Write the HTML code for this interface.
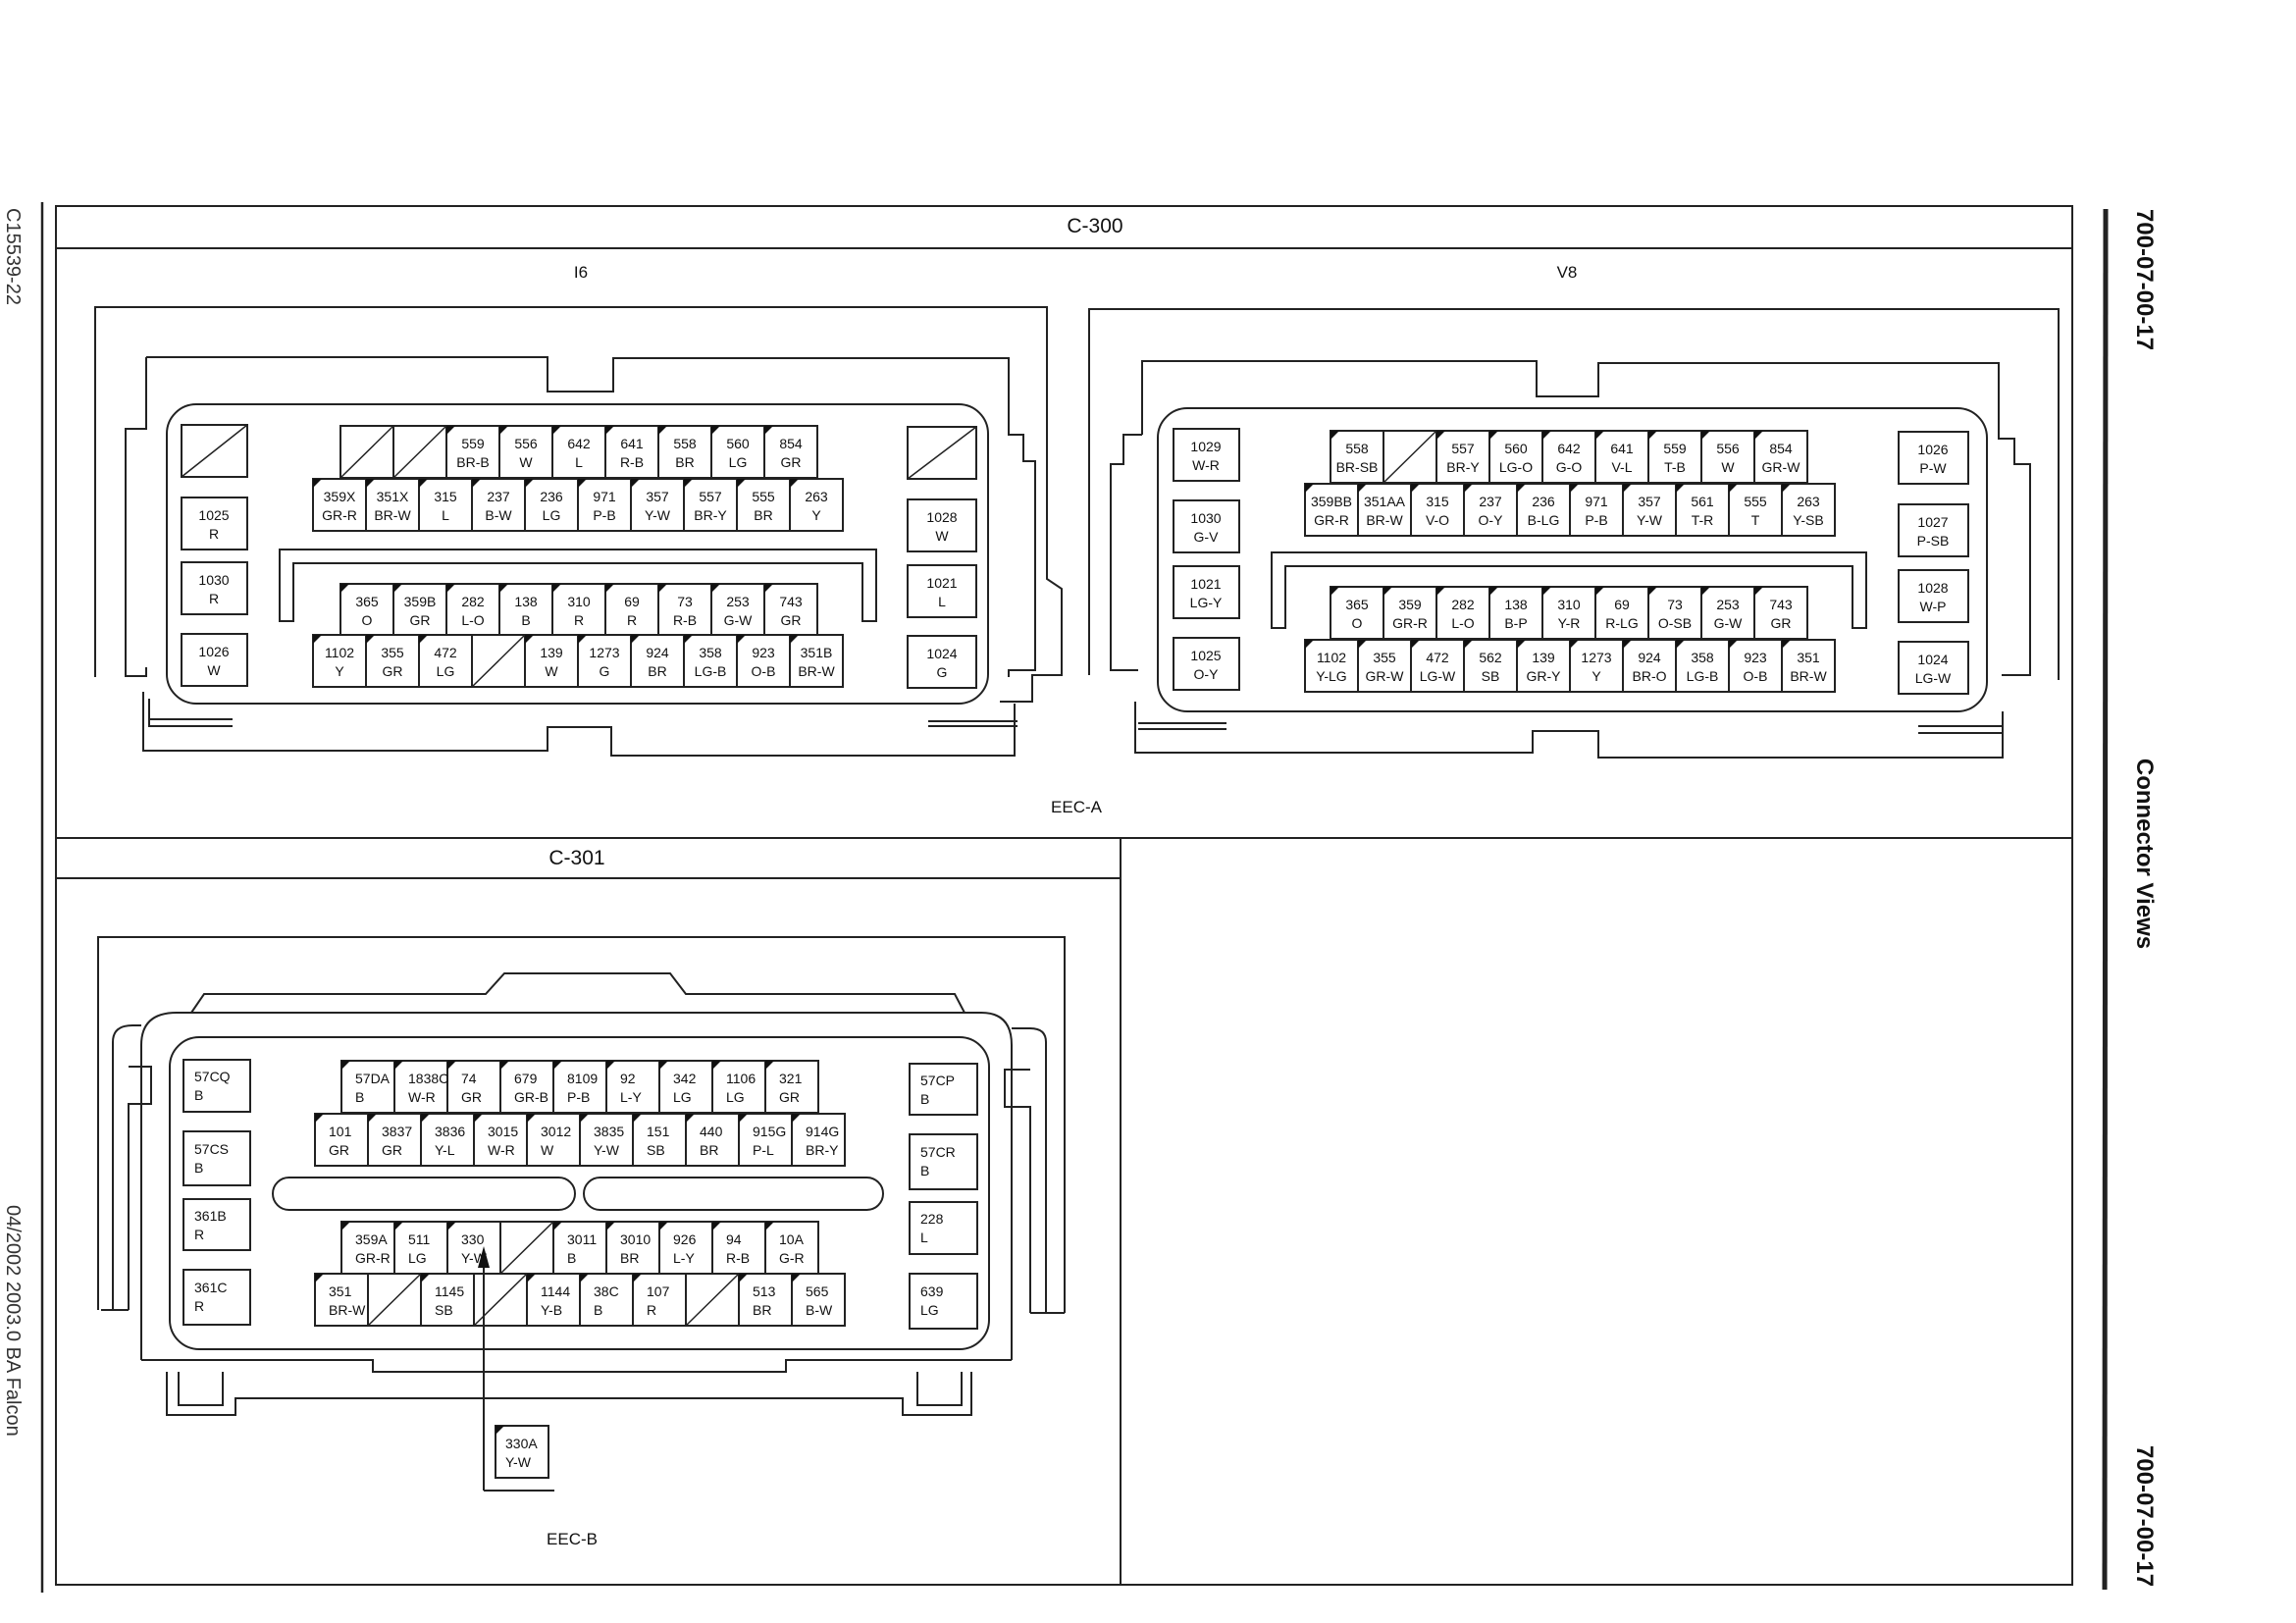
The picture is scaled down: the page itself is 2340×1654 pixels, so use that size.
<!DOCTYPE html>
<html><head><meta charset="utf-8"><style>
html,body{margin:0;padding:0;background:#fff}
svg{display:block}
text{font-family:"Liberation Sans Narrow","Liberation Sans",sans-serif;font-size:14px;fill:#111}
.m{text-anchor:middle}
.h{font-family:"Liberation Sans",sans-serif;font-size:21px}
.s{font-family:"Liberation Sans",sans-serif;font-size:17px}
.r{font-family:"Liberation Sans Narrow","Liberation Sans",sans-serif;font-size:24px;font-weight:bold}
.e{font-family:"Liberation Sans",sans-serif;font-size:20px;fill:#333}
</style></head><body>
<svg width="2340" height="1654" viewBox="0 0 2340 1654" xmlns="http://www.w3.org/2000/svg">
<defs>
<symbol id="c" overflow="visible"><rect width="54" height="53" fill="#fff" stroke="#222" stroke-width="2"/><path d="M0,0h9L0,9z" fill="#111"/></symbol>
<symbol id="b" overflow="visible"><rect width="54" height="53" fill="#fff" stroke="#222" stroke-width="2"/><path d="M0,53L54,0" stroke="#222" stroke-width="1.5"/></symbol>
</defs>
<rect width="2340" height="1654" fill="#fff"/>
<g fill="none" stroke="#222" stroke-width="2">
<rect x="57" y="210" width="2055" height="1405"/>
<line x1="57" y1="253" x2="2112" y2="253"/>
<line x1="57" y1="854" x2="2112" y2="854"/>
<line x1="57" y1="895" x2="1142" y2="895"/>
<line x1="1142" y1="854" x2="1142" y2="1615"/>
<line x1="43" y1="206" x2="43" y2="1623" stroke-width="2.5"/>
<line x1="2146" y1="213" x2="2145" y2="1620" stroke-width="5"/>

<path d="M97,690 V313 H1067 V590 L1082,600 V688 H1052 V715 H1019"/>
<path d="M149,364 H558 V399 H625 V365 H1028 V443 H1043 V470 H1055 V683 H1028 V690"/>
<path d="M149,364 V437 H128 V689 H149 V680"/>
<rect x="170" y="412" width="837" height="305" rx="30"/>
<path d="M285,633 V560 H893 V633 H879 V574 H299 V633 Z"/>
<path d="M146,705 V765 H558 V741 H623 V770 H1034 V717"/>
<path d="M152,712 V733 H237 M152,733 V740 H237"/>
<path d="M946,735 H1037 M946,740 H1037"/>

<path d="M1110,688 V315 H2098 V693"/>
<path d="M1164,443 V368 H1566 V404 H1629 V370 H2037 V447 H2053 V473 H2069 V688 H2040"/>
<path d="M1164,443 H1145 V473 H1132 V683 H1160"/>
<rect x="1180" y="416" width="845" height="309" rx="30"/>
<path d="M1296,640 V563 H1902 V640 H1888 V577 H1310 V640 Z"/>
<path d="M1157,715 V767 H1562 V745 H1629 V772 H2041 V725"/>
<path d="M1160,737 H1250 M1160,743 H1250 M1955,740 H2041 M1955,747 H2041"/>

<path d="M100,1335 V955 H1085 V1338"/>
<path d="M144,1386 V1065 Q144,1032 180,1032 H1000 Q1031,1032 1031,1065 V1386"/>
<path d="M195,1032 L208,1013 H495 L514,992 H683 L699,1013 H973 L983,1032"/>
<path d="M115,1335 V1062 Q115,1045 135,1045 H144 M131,1335 V1125 H154 V1087 H131 M103,1335 H131"/>
<path d="M1066,1338 V1062 Q1066,1048 1050,1048 H1031 M1050,1338 V1128 H1024 V1090 H1050 M1050,1338 H1085"/>
<rect x="173" y="1057" width="835" height="318" rx="30"/>
<rect x="278" y="1200" width="308" height="33" rx="16.5"/>
<rect x="595" y="1200" width="305" height="33" rx="16.5"/>
<path d="M144,1386 H380 V1398 H801 V1386 H1031"/>
<path d="M170,1398 V1442 H240 V1425 H920 V1442 H990 V1398"/>
<path d="M182,1398 V1432 H227 V1398 M935,1398 V1432 H980 V1398"/>
<path d="M493,1519 V1285 M493,1519 H565"/>
</g>
<path d="M493,1270 L487,1292 L499,1292 Z" fill="#111"/>

<text class="h m" x="1116" y="237">C-300</text>
<text class="s m" x="592" y="283">I6</text>
<text class="s m" x="1597" y="283">V8</text>
<text class="s m" x="1097" y="828">EEC-A</text>
<text class="h m" x="588" y="881">C-301</text>
<text class="s m" x="583" y="1574">EEC-B</text>
<text class="r m" transform="translate(2178,285) rotate(90)">700-07-00-17</text>
<text class="r m" transform="translate(2178,870) rotate(90)">Connector Views</text>
<text class="r m" transform="translate(2178,1545) rotate(90)">700-07-00-17</text>
<text class="e" transform="translate(7,212) rotate(90)">C15539-22</text>
<text class="e" transform="translate(7,1228) rotate(90)">04/2002 2003.0 BA Falcon</text>

<g fill="#fff" stroke="#222" stroke-width="2">
<rect x="185" y="433" width="67" height="53"/><rect x="185" y="507" width="67" height="53"/><rect x="185" y="573" width="67" height="53"/><rect x="185" y="646" width="67" height="53"/>
<rect x="925" y="435" width="70" height="53"/><rect x="925" y="509" width="70" height="53"/><rect x="925" y="576" width="70" height="53"/><rect x="925" y="648" width="70" height="53"/>
<rect x="1196" y="437" width="67" height="53"/><rect x="1196" y="510" width="67" height="53"/><rect x="1196" y="577" width="67" height="53"/><rect x="1196" y="650" width="67" height="53"/>
<rect x="1935" y="440" width="71" height="53"/><rect x="1935" y="514" width="71" height="53"/><rect x="1935" y="581" width="71" height="53"/><rect x="1935" y="654" width="71" height="53"/>
<rect x="187" y="1080" width="68" height="53"/><rect x="187" y="1153" width="68" height="55"/><rect x="187" y="1222" width="68" height="52"/><rect x="187" y="1294" width="68" height="56"/>
<rect x="927" y="1084" width="69" height="52"/><rect x="927" y="1156" width="69" height="56"/><rect x="927" y="1225" width="69" height="53"/><rect x="927" y="1298" width="69" height="56"/>
</g>
<g stroke="#222" stroke-width="1.5"><path d="M185,486 L252,433 M925,488 L995,435"/></g>
<text class="m" x="218" y="530">1025</text><text class="m" x="218" y="549">R</text>
<text class="m" x="218" y="596">1030</text><text class="m" x="218" y="615">R</text>
<text class="m" x="218" y="669">1026</text><text class="m" x="218" y="688">W</text>
<text class="m" x="960" y="532">1028</text><text class="m" x="960" y="551">W</text>
<text class="m" x="960" y="599">1021</text><text class="m" x="960" y="618">L</text>
<text class="m" x="960" y="671">1024</text><text class="m" x="960" y="690">G</text>

<use href="#b" x="347" y="434"/><use href="#b" x="401" y="434"/>
<use href="#c" x="455" y="434"/><use href="#c" x="509" y="434"/><use href="#c" x="563" y="434"/><use href="#c" x="617" y="434"/><use href="#c" x="671" y="434"/><use href="#c" x="725" y="434"/><use href="#c" x="779" y="434"/>
<text class="m" x="482" y="457">559</text><text class="m" x="482" y="476">BR-B</text>
<text class="m" x="536" y="457">556</text><text class="m" x="536" y="476">W</text>
<text class="m" x="590" y="457">642</text><text class="m" x="590" y="476">L</text>
<text class="m" x="644" y="457">641</text><text class="m" x="644" y="476">R-B</text>
<text class="m" x="698" y="457">558</text><text class="m" x="698" y="476">BR</text>
<text class="m" x="752" y="457">560</text><text class="m" x="752" y="476">LG</text>
<text class="m" x="806" y="457">854</text><text class="m" x="806" y="476">GR</text>
<use href="#c" x="319" y="488"/><use href="#c" x="373" y="488"/><use href="#c" x="427" y="488"/><use href="#c" x="481" y="488"/><use href="#c" x="535" y="488"/><use href="#c" x="589" y="488"/><use href="#c" x="643" y="488"/><use href="#c" x="697" y="488"/><use href="#c" x="751" y="488"/><use href="#c" x="805" y="488"/>
<text class="m" x="346" y="511">359X</text><text class="m" x="346" y="530">GR-R</text>
<text class="m" x="400" y="511">351X</text><text class="m" x="400" y="530">BR-W</text>
<text class="m" x="454" y="511">315</text><text class="m" x="454" y="530">L</text>
<text class="m" x="508" y="511">237</text><text class="m" x="508" y="530">B-W</text>
<text class="m" x="562" y="511">236</text><text class="m" x="562" y="530">LG</text>
<text class="m" x="616" y="511">971</text><text class="m" x="616" y="530">P-B</text>
<text class="m" x="670" y="511">357</text><text class="m" x="670" y="530">Y-W</text>
<text class="m" x="724" y="511">557</text><text class="m" x="724" y="530">BR-Y</text>
<text class="m" x="778" y="511">555</text><text class="m" x="778" y="530">BR</text>
<text class="m" x="832" y="511">263</text><text class="m" x="832" y="530">Y</text>

<use href="#c" x="347" y="595"/><use href="#c" x="401" y="595"/><use href="#c" x="455" y="595"/><use href="#c" x="509" y="595"/><use href="#c" x="563" y="595"/><use href="#c" x="617" y="595"/><use href="#c" x="671" y="595"/><use href="#c" x="725" y="595"/><use href="#c" x="779" y="595"/>
<text class="m" x="374" y="618">365</text><text class="m" x="374" y="637">O</text>
<text class="m" x="428" y="618">359B</text><text class="m" x="428" y="637">GR</text>
<text class="m" x="482" y="618">282</text><text class="m" x="482" y="637">L-O</text>
<text class="m" x="536" y="618">138</text><text class="m" x="536" y="637">B</text>
<text class="m" x="590" y="618">310</text><text class="m" x="590" y="637">R</text>
<text class="m" x="644" y="618">69</text><text class="m" x="644" y="637">R</text>
<text class="m" x="698" y="618">73</text><text class="m" x="698" y="637">R-B</text>
<text class="m" x="752" y="618">253</text><text class="m" x="752" y="637">G-W</text>
<text class="m" x="806" y="618">743</text><text class="m" x="806" y="637">GR</text>

<use href="#c" x="319" y="647"/><use href="#c" x="373" y="647"/><use href="#c" x="427" y="647"/><use href="#b" x="481" y="647"/><use href="#c" x="535" y="647"/><use href="#c" x="589" y="647"/><use href="#c" x="643" y="647"/><use href="#c" x="697" y="647"/><use href="#c" x="751" y="647"/><use href="#c" x="805" y="647"/>
<text class="m" x="346" y="670">1102</text><text class="m" x="346" y="689">Y</text>
<text class="m" x="400" y="670">355</text><text class="m" x="400" y="689">GR</text>
<text class="m" x="454" y="670">472</text><text class="m" x="454" y="689">LG</text>
<text class="m" x="562" y="670">139</text><text class="m" x="562" y="689">W</text>
<text class="m" x="616" y="670">1273</text><text class="m" x="616" y="689">G</text>
<text class="m" x="670" y="670">924</text><text class="m" x="670" y="689">BR</text>
<text class="m" x="724" y="670">358</text><text class="m" x="724" y="689">LG-B</text>
<text class="m" x="778" y="670">923</text><text class="m" x="778" y="689">O-B</text>
<text class="m" x="832" y="670">351B</text><text class="m" x="832" y="689">BR-W</text>

<text class="m" x="1229" y="460">1029</text><text class="m" x="1229" y="479">W-R</text>
<text class="m" x="1229" y="533">1030</text><text class="m" x="1229" y="552">G-V</text>
<text class="m" x="1229" y="600">1021</text><text class="m" x="1229" y="619">LG-Y</text>
<text class="m" x="1229" y="673">1025</text><text class="m" x="1229" y="692">O-Y</text>
<text class="m" x="1970" y="463">1026</text><text class="m" x="1970" y="482">P-W</text>
<text class="m" x="1970" y="537">1027</text><text class="m" x="1970" y="556">P-SB</text>
<text class="m" x="1970" y="604">1028</text><text class="m" x="1970" y="623">W-P</text>
<text class="m" x="1970" y="677">1024</text><text class="m" x="1970" y="696">LG-W</text>

<use href="#c" x="1356" y="439"/><use href="#b" x="1410" y="439"/><use href="#c" x="1464" y="439"/><use href="#c" x="1518" y="439"/><use href="#c" x="1572" y="439"/><use href="#c" x="1626" y="439"/><use href="#c" x="1680" y="439"/><use href="#c" x="1734" y="439"/><use href="#c" x="1788" y="439"/>
<text class="m" x="1383" y="462">558</text><text class="m" x="1383" y="481">BR-SB</text>
<text class="m" x="1491" y="462">557</text><text class="m" x="1491" y="481">BR-Y</text>
<text class="m" x="1545" y="462">560</text><text class="m" x="1545" y="481">LG-O</text>
<text class="m" x="1599" y="462">642</text><text class="m" x="1599" y="481">G-O</text>
<text class="m" x="1653" y="462">641</text><text class="m" x="1653" y="481">V-L</text>
<text class="m" x="1707" y="462">559</text><text class="m" x="1707" y="481">T-B</text>
<text class="m" x="1761" y="462">556</text><text class="m" x="1761" y="481">W</text>
<text class="m" x="1815" y="462">854</text><text class="m" x="1815" y="481">GR-W</text>

<use href="#c" x="1330" y="493"/><use href="#c" x="1384" y="493"/><use href="#c" x="1438" y="493"/><use href="#c" x="1492" y="493"/><use href="#c" x="1546" y="493"/><use href="#c" x="1600" y="493"/><use href="#c" x="1654" y="493"/><use href="#c" x="1708" y="493"/><use href="#c" x="1762" y="493"/><use href="#c" x="1816" y="493"/>
<text class="m" x="1357" y="516">359BB</text><text class="m" x="1357" y="535">GR-R</text>
<text class="m" x="1411" y="516">351AA</text><text class="m" x="1411" y="535">BR-W</text>
<text class="m" x="1465" y="516">315</text><text class="m" x="1465" y="535">V-O</text>
<text class="m" x="1519" y="516">237</text><text class="m" x="1519" y="535">O-Y</text>
<text class="m" x="1573" y="516">236</text><text class="m" x="1573" y="535">B-LG</text>
<text class="m" x="1627" y="516">971</text><text class="m" x="1627" y="535">P-B</text>
<text class="m" x="1681" y="516">357</text><text class="m" x="1681" y="535">Y-W</text>
<text class="m" x="1735" y="516">561</text><text class="m" x="1735" y="535">T-R</text>
<text class="m" x="1789" y="516">555</text><text class="m" x="1789" y="535">T</text>
<text class="m" x="1843" y="516">263</text><text class="m" x="1843" y="535">Y-SB</text>

<use href="#c" x="1356" y="598"/><use href="#c" x="1410" y="598"/><use href="#c" x="1464" y="598"/><use href="#c" x="1518" y="598"/><use href="#c" x="1572" y="598"/><use href="#c" x="1626" y="598"/><use href="#c" x="1680" y="598"/><use href="#c" x="1734" y="598"/><use href="#c" x="1788" y="598"/>
<text class="m" x="1383" y="621">365</text><text class="m" x="1383" y="640">O</text>
<text class="m" x="1437" y="621">359</text><text class="m" x="1437" y="640">GR-R</text>
<text class="m" x="1491" y="621">282</text><text class="m" x="1491" y="640">L-O</text>
<text class="m" x="1545" y="621">138</text><text class="m" x="1545" y="640">B-P</text>
<text class="m" x="1599" y="621">310</text><text class="m" x="1599" y="640">Y-R</text>
<text class="m" x="1653" y="621">69</text><text class="m" x="1653" y="640">R-LG</text>
<text class="m" x="1707" y="621">73</text><text class="m" x="1707" y="640">O-SB</text>
<text class="m" x="1761" y="621">253</text><text class="m" x="1761" y="640">G-W</text>
<text class="m" x="1815" y="621">743</text><text class="m" x="1815" y="640">GR</text>

<use href="#c" x="1330" y="652"/><use href="#c" x="1384" y="652"/><use href="#c" x="1438" y="652"/><use href="#c" x="1492" y="652"/><use href="#c" x="1546" y="652"/><use href="#c" x="1600" y="652"/><use href="#c" x="1654" y="652"/><use href="#c" x="1708" y="652"/><use href="#c" x="1762" y="652"/><use href="#c" x="1816" y="652"/>
<text class="m" x="1357" y="675">1102</text><text class="m" x="1357" y="694">Y-LG</text>
<text class="m" x="1411" y="675">355</text><text class="m" x="1411" y="694">GR-W</text>
<text class="m" x="1465" y="675">472</text><text class="m" x="1465" y="694">LG-W</text>
<text class="m" x="1519" y="675">562</text><text class="m" x="1519" y="694">SB</text>
<text class="m" x="1573" y="675">139</text><text class="m" x="1573" y="694">GR-Y</text>
<text class="m" x="1627" y="675">1273</text><text class="m" x="1627" y="694">Y</text>
<text class="m" x="1681" y="675">924</text><text class="m" x="1681" y="694">BR-O</text>
<text class="m" x="1735" y="675">358</text><text class="m" x="1735" y="694">LG-B</text>
<text class="m" x="1789" y="675">923</text><text class="m" x="1789" y="694">O-B</text>
<text class="m" x="1843" y="675">351</text><text class="m" x="1843" y="694">BR-W</text>

<text x="198" y="1102">57CQ</text><text x="198" y="1121">B</text>
<text x="198" y="1176">57CS</text><text x="198" y="1195">B</text>
<text x="198" y="1244">361B</text><text x="198" y="1263">R</text>
<text x="198" y="1317">361C</text><text x="198" y="1336">R</text>
<text x="938" y="1106">57CP</text><text x="938" y="1125">B</text>
<text x="938" y="1179">57CR</text><text x="938" y="1198">B</text>
<text x="938" y="1247">228</text><text x="938" y="1266">L</text>
<text x="938" y="1321">639</text><text x="938" y="1340">LG</text>

<use href="#c" x="348" y="1081"/><use href="#c" x="402" y="1081"/><use href="#c" x="456" y="1081"/><use href="#c" x="510" y="1081"/><use href="#c" x="564" y="1081"/><use href="#c" x="618" y="1081"/><use href="#c" x="672" y="1081"/><use href="#c" x="726" y="1081"/><use href="#c" x="780" y="1081"/>
<text x="362" y="1104">57DA</text><text x="362" y="1123">B</text>
<text x="416" y="1104">1838C</text><text x="416" y="1123">W-R</text>
<text x="470" y="1104">74</text><text x="470" y="1123">GR</text>
<text x="524" y="1104">679</text><text x="524" y="1123">GR-B</text>
<text x="578" y="1104">8109</text><text x="578" y="1123">P-B</text>
<text x="632" y="1104">92</text><text x="632" y="1123">L-Y</text>
<text x="686" y="1104">342</text><text x="686" y="1123">LG</text>
<text x="740" y="1104">1106</text><text x="740" y="1123">LG</text>
<text x="794" y="1104">321</text><text x="794" y="1123">GR</text>

<use href="#c" x="321" y="1135"/><use href="#c" x="375" y="1135"/><use href="#c" x="429" y="1135"/><use href="#c" x="483" y="1135"/><use href="#c" x="537" y="1135"/><use href="#c" x="591" y="1135"/><use href="#c" x="645" y="1135"/><use href="#c" x="699" y="1135"/><use href="#c" x="753" y="1135"/><use href="#c" x="807" y="1135"/>
<text x="335" y="1158">101</text><text x="335" y="1177">GR</text>
<text x="389" y="1158">3837</text><text x="389" y="1177">GR</text>
<text x="443" y="1158">3836</text><text x="443" y="1177">Y-L</text>
<text x="497" y="1158">3015</text><text x="497" y="1177">W-R</text>
<text x="551" y="1158">3012</text><text x="551" y="1177">W</text>
<text x="605" y="1158">3835</text><text x="605" y="1177">Y-W</text>
<text x="659" y="1158">151</text><text x="659" y="1177">SB</text>
<text x="713" y="1158">440</text><text x="713" y="1177">BR</text>
<text x="767" y="1158">915G</text><text x="767" y="1177">P-L</text>
<text x="821" y="1158">914G</text><text x="821" y="1177">BR-Y</text>

<use href="#c" x="348" y="1245"/><use href="#c" x="402" y="1245"/><use href="#c" x="456" y="1245"/><use href="#b" x="510" y="1245"/><use href="#c" x="564" y="1245"/><use href="#c" x="618" y="1245"/><use href="#c" x="672" y="1245"/><use href="#c" x="726" y="1245"/><use href="#c" x="780" y="1245"/>
<text x="362" y="1268">359A</text><text x="362" y="1287">GR-R</text>
<text x="416" y="1268">511</text><text x="416" y="1287">LG</text>
<text x="470" y="1268">330</text><text x="470" y="1287">Y-W</text>
<text x="578" y="1268">3011</text><text x="578" y="1287">B</text>
<text x="632" y="1268">3010</text><text x="632" y="1287">BR</text>
<text x="686" y="1268">926</text><text x="686" y="1287">L-Y</text>
<text x="740" y="1268">94</text><text x="740" y="1287">R-B</text>
<text x="794" y="1268">10A</text><text x="794" y="1287">G-R</text>

<use href="#c" x="321" y="1298"/><use href="#b" x="375" y="1298"/><use href="#c" x="429" y="1298"/><use href="#b" x="483" y="1298"/><use href="#c" x="537" y="1298"/><use href="#c" x="591" y="1298"/><use href="#c" x="645" y="1298"/><use href="#b" x="699" y="1298"/><use href="#c" x="753" y="1298"/><use href="#c" x="807" y="1298"/>
<text x="335" y="1321">351</text><text x="335" y="1340">BR-W</text>
<text x="443" y="1321">1145</text><text x="443" y="1340">SB</text>
<text x="551" y="1321">1144</text><text x="551" y="1340">Y-B</text>
<text x="605" y="1321">38C</text><text x="605" y="1340">B</text>
<text x="659" y="1321">107</text><text x="659" y="1340">R</text>
<text x="767" y="1321">513</text><text x="767" y="1340">BR</text>
<text x="821" y="1321">565</text><text x="821" y="1340">B-W</text>

<g stroke="#222" stroke-width="2"><line x1="493" y1="1519" x2="493" y2="1285"/></g>
<path d="M493,1270 L487,1292 L499,1292 Z" fill="#111"/>
<use href="#c" x="505" y="1453"/>
<text x="515" y="1476">330A</text><text x="515" y="1495">Y-W</text>
</svg>
</body></html>
